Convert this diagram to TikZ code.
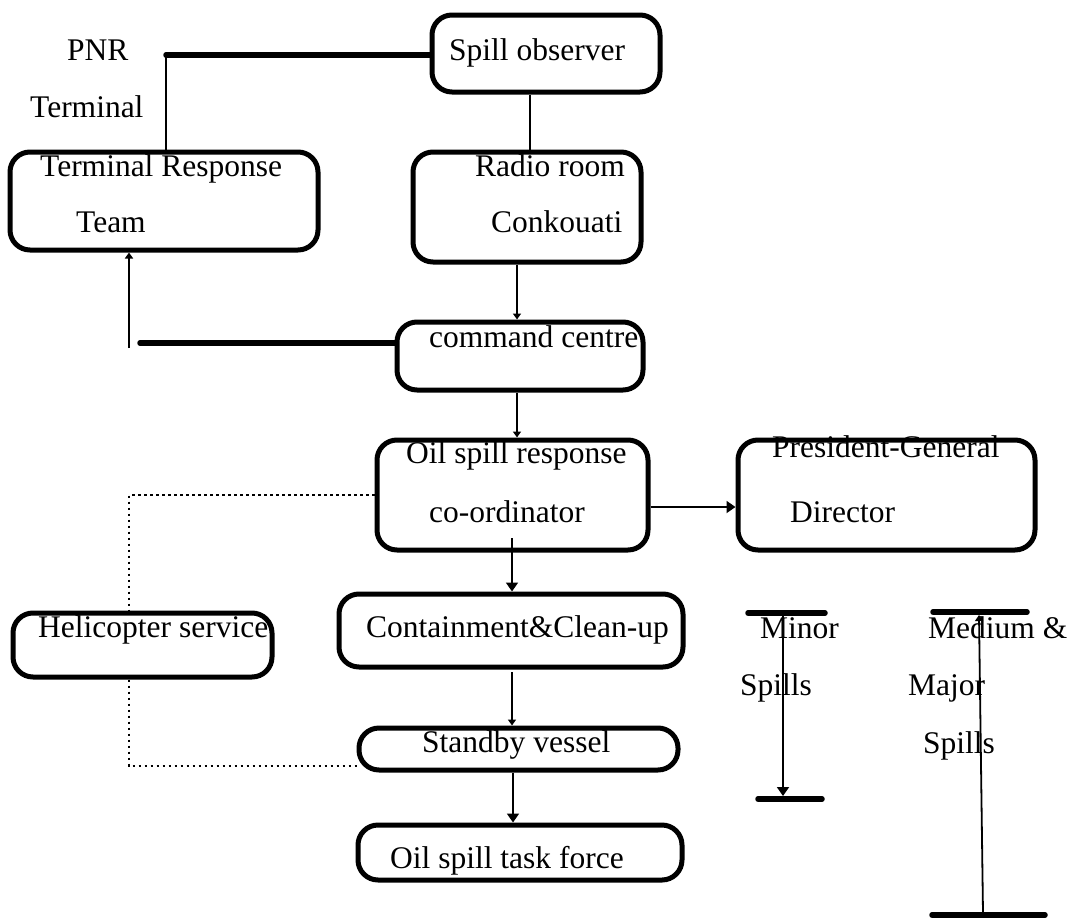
\documentclass[tikz,border=0pt]{standalone}
\usepackage{fontspec}
\setmainfont{Liberation Serif}
\usetikzlibrary{arrows.meta}
\tikzset{
  box/.style={draw, line width=5pt, rounded corners=20pt, inner sep=0pt},
  lbl/.style={anchor=base west, inner sep=0pt, font=\fontsize{31.5}{36}\selectfont},
  thinline/.style={line width=1.8pt},
  heavyline/.style={line width=5.5pt, line cap=round},
  dotline/.style={line width=2.6pt, dash pattern=on 2.6pt off 3.4pt},
  bigarr/.style={thinline, -{Triangle[length=9pt,width=12pt]}},
  smallarr/.style={thinline, -{Triangle[length=6pt,width=8pt]}}
}
\begin{document}
\begin{tikzpicture}[x=1pt,y=-1pt]
\useasboundingbox (0,0) rectangle (1074,919);

% boxes
\node[box, minimum width=228pt, minimum height=77pt]  (so)   at (546,53.5) {};
\node[box, minimum width=308pt, minimum height=98pt]  (trt)  at (164,201) {};
\node[box, minimum width=228pt, minimum height=110pt] (rr)   at (527,207) {};
\node[box, minimum width=246pt, minimum height=68pt]  (cc)   at (520,356) {};
\node[box, minimum width=271pt, minimum height=110pt] (osr)  at (512.5,495) {};
\node[box, minimum width=297pt, minimum height=110pt] (pgd)  at (886.5,495) {};
\node[box, minimum width=259pt, minimum height=64pt]  (heli) at (142.5,645) {};
\node[box, minimum width=344pt, minimum height=73pt]  (cont) at (511,630.5) {};
\node[box, minimum width=319pt, minimum height=42pt]  (sv)   at (518.5,749) {};
\node[box, minimum width=324pt, minimum height=55pt]  (tf)   at (520,852.5) {};

% texts
\node[lbl] (tpnr)  at (67,60)   {PNR};
\node[lbl] (tterm) at (30,117)  {Terminal};
\node[lbl] (tso)   at (449,60)  {Spill observer};
\node[lbl] (ttrt1) at (40,176)  {Terminal Response};
\node[lbl] (ttrt2) at (76,232)  {Team};
\node[lbl] (trr1)  at (475,176) {Radio room};
\node[lbl] (trr2)  at (491,232) {Conkouati};
\node[lbl] (tcc)   at (429,347) {command centre};
\node[lbl] (tosr1) at (406,463) {Oil spill response};
\node[lbl] (tosr2) at (429,522) {co-ordinator};
\node[lbl] (tpgd1) at (772,457) {President-General};
\node[lbl] (tpgd2) at (790,522) {Director};
\node[lbl] (theli) at (38,637)  {Helicopter service};
\node[lbl] (tcont) at (366,637) {Containment\&Clean-up};
\node[lbl] (tsv)   at (422,752) {Standby vessel};
\node[lbl] (ttf)   at (390,868) {Oil spill task force};
\node[lbl] (tmin1) at (760,638) {Minor};
\node[lbl] (tmin2) at (740,695) {Spills};
\node[lbl] (tmed1) at (928,638) {Medium \&};
\node[lbl] (tmed2) at (908,695) {Major};
\node[lbl] (tmed3) at (923,753) {Spills};

% guide coordinates
\coordinate (pnrj) at (166,55);
\coordinate (x530) at (530,0);
\coordinate (x517) at (517,0);
\coordinate (x513) at (513,0);
\coordinate (ccl)  at (140,343);
\coordinate (upb)  at (129,348);
\coordinate (y507) at (0,507);
\coordinate (osrin) at (512,538);
\coordinate (contin) at (512,672);
\coordinate (dtop) at (129,495);
\coordinate (dbot) at (129,766);

% connectors
\draw[heavyline] (pnrj) -- (pnrj -| so.west);
\draw[thinline] (pnrj) -- (pnrj |- trt.north);
\draw[thinline] (so.south -| x530) -- (rr.north -| x530);
\draw[smallarr] (rr.south -| x517) -- (cc.north -| x517);
\draw[smallarr] (cc.south -| x517) -- (osr.north -| x517);
\draw[heavyline] (ccl -| cc.west) -- (ccl);
\draw[smallarr] (upb) -- (upb |- trt.south);
\draw[bigarr] (osr.east |- y507) -- (pgd.west |- y507);
\draw[bigarr] (osrin) -- (cont.north -| osrin);
\draw[smallarr] (contin) -- (sv.north -| contin);
\draw[bigarr] (sv.south -| x513) -- (tf.north -| x513);
\draw[dotline] (osr.west |- dtop) -- (dtop) -- (heli.north -| dtop);
\draw[dotline] (heli.south -| dbot) -- (dbot) -- (dbot -| sv.west);

% spill-size scales
\coordinate (mina) at (748,613);
\coordinate (minb) at (825,613);
\coordinate (minc) at (758,799);
\coordinate (mind) at (822,799);
\coordinate (minx) at (783,613);
\coordinate (miny) at (783,796);
\draw[heavyline] (mina) -- (minb);
\draw[heavyline] (minc) -- (mind);
\draw[bigarr] (minx) -- (miny);
\coordinate (meda) at (933,612);
\coordinate (medb) at (1027,612);
\coordinate (medc) at (932,915);
\coordinate (medd) at (1045,915);
\coordinate (medx) at (983,913);
\coordinate (medy) at (979,615);
\draw[heavyline] (meda) -- (medb);
\draw[heavyline] (medc) -- (medd);
\draw[smallarr] (medx) -- (medy);
\end{tikzpicture}
\end{document}
